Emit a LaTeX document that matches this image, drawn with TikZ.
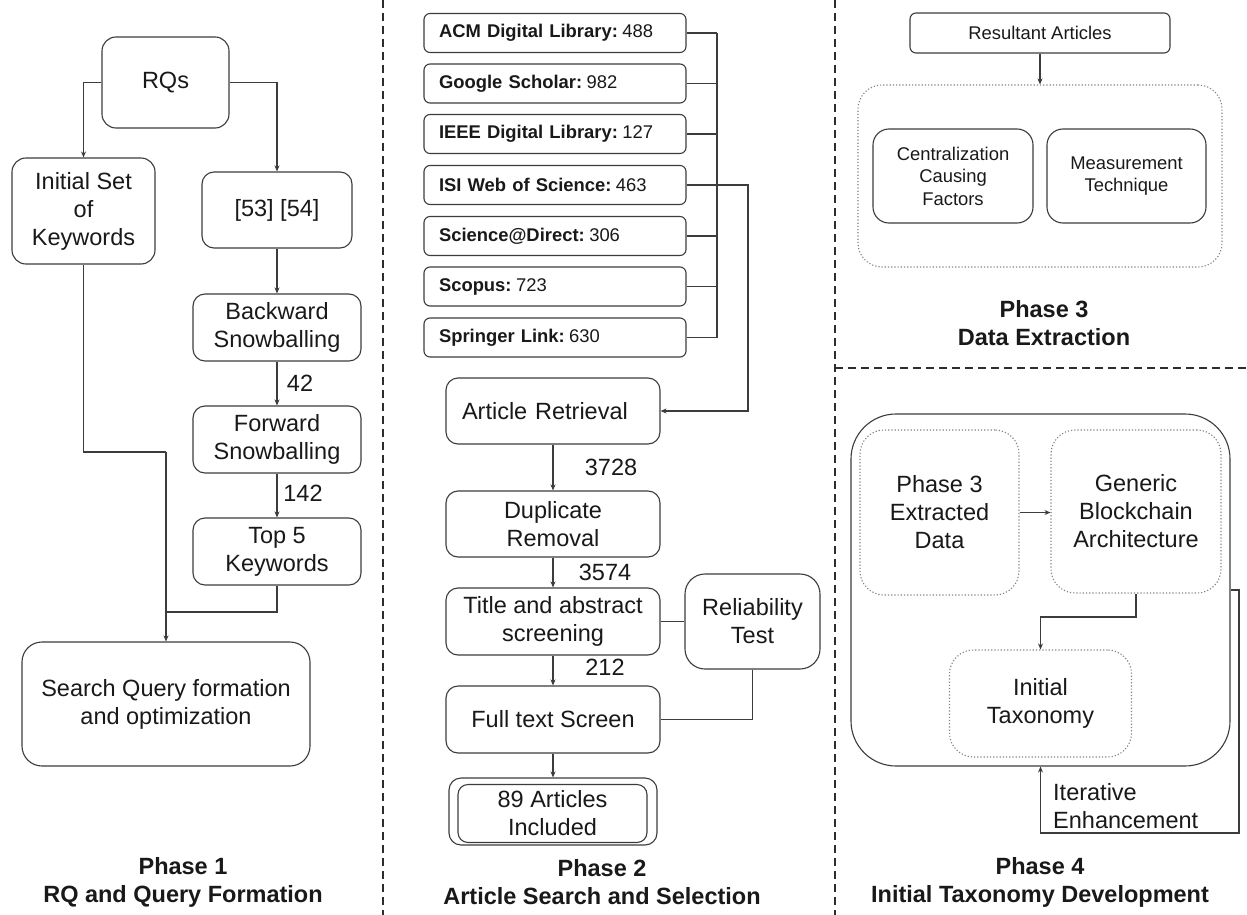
\documentclass[tikz,border=0pt]{standalone}
\usepackage{fontspec}
\setmainfont{Liberation Sans}
\usetikzlibrary{arrows.meta}
\definecolor{lc}{RGB}{60,60,60}
\definecolor{tc}{RGB}{25,25,25}
\definecolor{dc}{RGB}{130,130,130}
\newcommand{\myBig}{\fontsize{23.5}{28}\selectfont}
\newcommand{\mySmall}{\fontsize{18.4}{22.5}\selectfont}
\newcommand{\dsp}{\hspace{4.5pt}}
\begin{document}
\begin{tikzpicture}[x=1pt,y=-1pt,
  every node/.style={text=tc},
  bx/.style 2 args={minimum width=#1pt, minimum height=#2pt, inner sep=0pt},
  box/.style={draw=lc, line width=1.1pt, rounded corners=12pt, align=center, font=\myBig},
  sbox/.style={draw=lc, line width=1.1pt, rounded corners=6pt, font=\mySmall},
  dbox/.style={draw=dc, line width=1.1pt, dash pattern=on 1.2pt off 2pt, rounded corners=24pt, align=center, font=\myBig},
  ln/.style={draw=lc, line width=1.1pt},
  arr/.style={ln, -{Stealth[length=6pt,width=5pt]}},
  sep/.style={draw={rgb,255:red,45;green,45;blue,45}, line width=2.6pt, dash pattern=on 8pt off 5pt},
  lbl/.style={font=\myBig, inner sep=0pt},
  ttl/.style={font=\myBig\bfseries, align=center, inner sep=0pt}
]
\fill[white] (0,0) rectangle (1247,915);
\useasboundingbox (0,0) rectangle (1247,915);

% separators
\draw[sep] (383,0) -- (383,915);
\draw[sep] (835,0) -- (835,915);
\draw[sep] (835,368) -- (1247,368);

% ---------------- Phase 1
\node[box, bx={127}{91}, rounded corners=14pt] (rqs) at (165.5,82.5) {RQs};
\node[box, bx={143}{106}, rounded corners=14pt] (init) at (83.5,211) {Initial Set\\of\\Keywords};
\node[box, bx={150}{76}] (refs) at (277,210) {[53] [54]};
\node[box, bx={168}{67}] (back) at (277,327.5) {Backward\\Snowballing};
\node[box, bx={168}{67}] (fwd) at (277,439.5) {Forward\\Snowballing};
\node[box, bx={168}{67}] (top5) at (277,551.5) {Top 5\\Keywords};
\node[box, bx={288}{124}, rounded corners=20pt] (sq) at (166,704) {Search Query formation\\and optimization};
\coordinate (j1) at (166,452);
\coordinate (j2) at (166,612);
\draw[arr] (rqs.west) -| (init.north);
\draw[arr] (rqs.east) -| (refs.north);
\draw[arr] (refs) -- (back);
\draw[arr] (back) -- (fwd);
\draw[arr] (fwd) -- (top5);
\node[lbl] (n42) at (300,383) {42};
\node[lbl] (n142) at (303,493) {142};
\draw[ln] (init.south) |- (j1);
\draw[ln] (top5.south) |- (j2);
\draw[arr] (j1) -- (sq.north);
\node[ttl] (t1) at (183,882) {Phase 1\\RQ and Query Formation};

% ---------------- Phase 2
\node[sbox, bx={262}{39}, text width=232pt, align=left] (acm) at (555,33) {\textbf{ACM Digital Library:}\dsp488};
\node[sbox, bx={262}{39}, text width=232pt, align=left] (gs) at (555,83.5) {\textbf{Google Scholar:}\dsp982};
\node[sbox, bx={262}{39}, text width=232pt, align=left] (ieee) at (555,134) {\textbf{IEEE Digital Library:}\dsp127};
\node[sbox, bx={262}{39}, text width=232pt, align=left] (isi) at (555,185) {\textbf{ISI Web of Science:}\dsp463};
\node[sbox, bx={262}{39}, text width=232pt, align=left] (sd) at (555,236) {\textbf{Science@Direct:}\dsp306};
\node[sbox, bx={262}{39}, text width=232pt, align=left] (sco) at (555,286.5) {\textbf{Scopus:}\dsp723};
\node[sbox, bx={262}{39}, text width=232pt, align=left] (spr) at (555,337.5) {\textbf{Springer Link:}\dsp630};
\coordinate (b1) at (717,33);
\coordinate (b2) at (717,83.5);
\coordinate (b3) at (717,134);
\coordinate (b4) at (717,185);
\coordinate (b5) at (717,236);
\coordinate (b6) at (717,286.5);
\coordinate (b7) at (717,337.5);
\coordinate (b8) at (748,185);
\draw[ln] (acm.east) -- (b1);
\draw[ln] (gs.east) -- (b2);
\draw[ln] (ieee.east) -- (b3);
\draw[ln] (isi.east) -- (b4);
\draw[ln] (sd.east) -- (b5);
\draw[ln] (sco.east) -- (b6);
\draw[ln] (spr.east) -- (b7);
\draw[ln] (b1) -- (b7);

\node[box, bx={214}{66}, text width=182pt, align=left] (ar) at (553,411) {Article Retrieval};
\node[box, bx={214}{66}] (dup) at (553,524) {Duplicate\\Removal};
\node[box, bx={214}{67}] (tas) at (553,621.5) {Title and abstract\\screening};
\node[box, bx={214}{67}] (fts) at (553,719.5) {Full text Screen};
\node[box, bx={135}{95}, rounded corners=20pt] (rel) at (752.5,621.5) {Reliability\\Test};
\node[box, bx={208}{67}] (inc) at (553,811.5) {};
\node[box, bx={189}{58}, rounded corners=10pt] (inci) at (552.5,813.5) {89 Articles\\Included};
\draw[arr] (b4) -- (b8) |- (ar.east);
\draw[arr] (ar) -- (dup);
\draw[arr] (dup) -- (tas);
\draw[arr] (tas) -- (fts);
\draw[arr] (fts.south) -- (inc.north);
\node[lbl] (n3728) at (611,467) {3728};
\node[lbl] (n3574) at (605,572) {3574};
\node[lbl] (n212) at (605,667) {212};
\draw[ln] (tas.east) -- (rel.west);
\draw[ln] (rel.south) |- (fts.east);
\node[ttl] (t2) at (602,882) {Phase 2\\Article Search and Selection};

% ---------------- Phase 3
\node[sbox, bx={260}{40}] (res) at (1040,33) {Resultant Articles};
\node[dbox, bx={364}{182}] (cont) at (1040,176) {};
\node[box, bx={160}{94}, rounded corners=16pt, font=\mySmall] (cen) at (953,176) {Centralization\\Causing\\Factors};
\node[box, bx={159}{94}, rounded corners=16pt, font=\mySmall] (mea) at (1126.5,176) {Measurement\\Technique};
\draw[arr] (res.south) -- (cont.north);
\node[ttl] (t3) at (1044,323) {Phase 3\\Data Extraction};

% ---------------- Phase 4
\node[box, bx={379}{352}, rounded corners=45pt] (outer) at (1040.5,590) {};
\node[dbox, bx={159}{165}] (p3d) at (939.5,512.5) {Phase 3\\Extracted\\Data};
\node[dbox, bx={170}{163}] (gba) at (1136,511.5) {Generic\\Blockchain\\Architecture};
\node[dbox, bx={182}{107}] (itx) at (1040.5,703.5) {Initial\\Taxonomy};
\draw[arr] (p3d.east) -- (p3d.east -| gba.west);
\coordinate (g1) at (1136,617);
\draw[arr] (gba.south) -- (g1) -| (itx.north);
\coordinate (f2) at (1239,833);
\draw[arr] (outer.east) -| (f2) -| (outer.south);
\node[font=\myBig, align=left, anchor=west, inner sep=0pt] (ie) at (1053,806) {Iterative\\Enhancement};
\node[ttl] (t4) at (1040,882) {Phase 4\\Initial Taxonomy Development};
\end{tikzpicture}
\end{document}
